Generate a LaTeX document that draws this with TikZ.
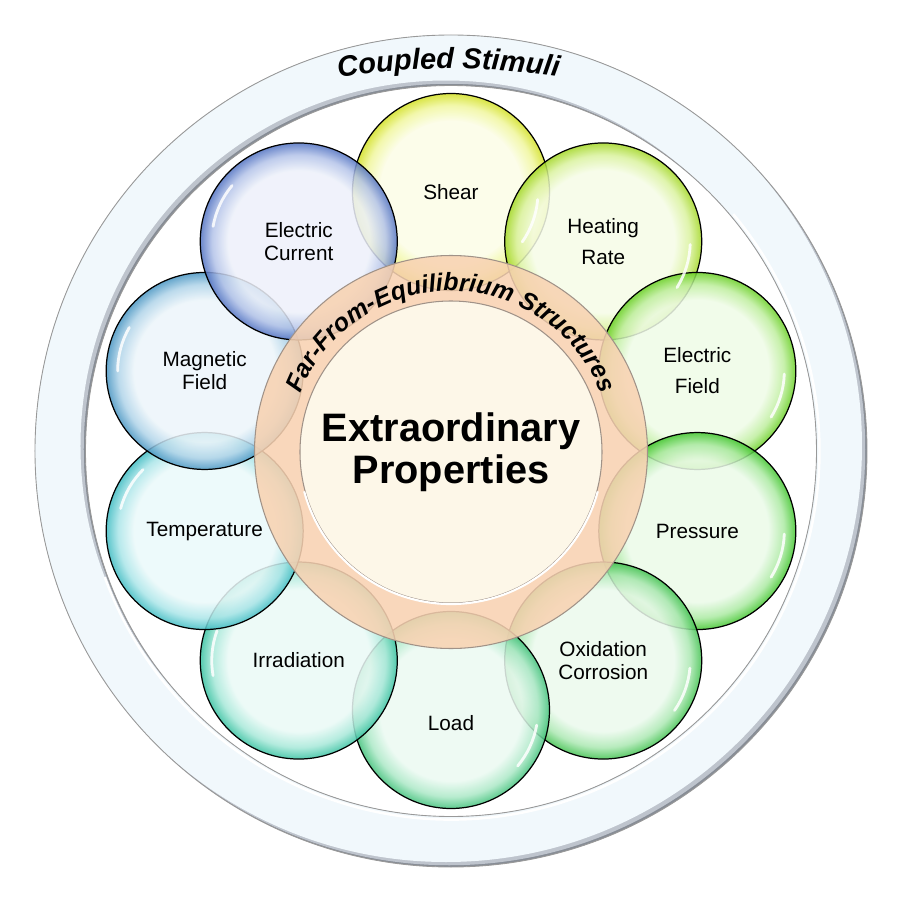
\documentclass[tikz,border=0pt]{standalone}
\usepackage{fontspec}
\setmainfont{Liberation Sans}
\usetikzlibrary{decorations.text}

\definecolor{ringfill}{RGB}{241,248,252}
\definecolor{ringshade}{RGB}{135,141,150}
\definecolor{ringmid}{RGB}{190,196,205}
\definecolor{coreorange}{RGB}{248,210,178}
\definecolor{corecream}{RGB}{253,247,232}
\definecolor{coreedge}{RGB}{160,146,136}
\definecolor{cshear}{RGB}{222,236,40}
\definecolor{cheat}{RGB}{172,226,40}
\definecolor{cefield}{RGB}{112,218,40}
\definecolor{cpress}{RGB}{70,208,50}
\definecolor{coxid}{RGB}{70,204,85}
\definecolor{cload}{RGB}{70,204,130}
\definecolor{cirrad}{RGB}{60,204,170}
\definecolor{ctemp}{RGB}{68,198,205}
\definecolor{cmagn}{RGB}{78,158,205}
\definecolor{ccurr}{RGB}{88,122,205}

\colorlet{petalin}{white}
\colorlet{petalmid}{gray!30}
\colorlet{petalrim}{gray}
\pgfdeclareradialshading[petalin,petalmid,petalrim]{petalball}{\pgfpoint{0bp}{0bp}}{color(0bp)=(petalin); color(18bp)=(petalin); color(22bp)=(petalmid); color(25bp)=(petalrim); color(50bp)=(petalrim)}

\newcommand\petalfont{\fontsize{11.8}{13.2}\selectfont}
\newcommand\corefont{\fontsize{22.6}{23.8}\selectfont\bfseries}
\newcommand\farfont{\fontsize{14.2}{16}\selectfont\bfseries\itshape}
\newcommand\stimfont{\fontsize{16.5}{18}\selectfont\bfseries\itshape}

\tikzset{petal/.style={circle, minimum size=3.94cm, inner sep=0pt, draw=black, line width=0.7pt, fill opacity=0.86, text opacity=1, align=center, font=\petalfont, /utils/exec={\colorlet{petalin}{#1!11!white}\colorlet{petalmid}{#1!45!white}\colorlet{petalrim}{#1!95!black}}, shading=petalball}}
\tikzstyle{core} = [circle, minimum size=6.04cm, inner sep=0pt, fill=corecream, draw=coreedge, line width=0.6pt, align=center, font=\corefont]
\tikzstyle{ringedge} = [draw=gray!80, line width=0.5pt]
\tikzstyle{glint} = [white, line width=1.6pt, line cap=round, opacity=0.85]

\begin{document}
\begin{tikzpicture}
\useasboundingbox (-9.02,-9.04) rectangle (9.02,9.02);

% outer ring
\begin{scope}[even odd rule]
  \clip (0,0) circle (8.32) (0,0) circle (7.31);
  \fill[ringshade] (0,0) circle (8.4);
  \fill[ringmid] (-0.035,0.035) circle (8.32) (-0.035,0.035) circle (7.31);
  \fill[ringfill] (-0.1,0.1) circle (8.32) (-0.1,0.1) circle (7.31);
\end{scope}
\draw[white, line width=1.4pt] (0,0) ++(-160:7.37) arc[start angle=-160, end angle=40, radius=7.37];
\draw[ringedge] (0,0) circle (8.32) (0,0) circle (7.31);
\path[decorate, decoration={text along path, text align=center, text={|\stimfont|Coupled Stimuli}}] (-0.05,-6.35) ++(100:14) arc[start angle=100, end angle=80, radius=14];

% stimuli
\node [petal=cshear] at (90:5.18) (shear) {Shear};
\node [petal=cheat] at (54:5.18) (heating) {Heating\\[4.5pt]Rate};
\node [petal=cefield] at (18:5.18) (efield) {Electric\\[4.5pt]Field};
\node [petal=cpress] at (-18:5.18) (pressure) {Pressure};
\node [petal=coxid] at (-54:5.18) (oxidation) {Oxidation\\Corrosion};
\node [petal=cload] at (-90:5.18) (load) {\raisebox{-0.26cm}[8.5pt][0pt]{Load}};
\node [petal=cirrad] at (-126:5.18) (irradiation) {Irradiation};
\node [petal=ctemp] at (-162:5.18) (temperature) {Temperature};
\node [petal=cmagn] at (162:5.18) (magnetic) {Magnetic\\Field};
\node [petal=ccurr] at (126:5.18) (current) {Electric\\Current};

% highlights
\draw[glint] (shear.center) ++(-5:1.74) arc[start angle=-5, end angle=-35, radius=1.74];
\draw[glint] (heating.center) ++(-2:1.74) arc[start angle=-2, end angle=-32, radius=1.74];
\draw[glint] (efield.center) ++(-2:1.74) arc[start angle=-2, end angle=-32, radius=1.74];
\draw[glint] (pressure.center) ++(-2:1.74) arc[start angle=-2, end angle=-32, radius=1.74];
\draw[glint] (oxidation.center) ++(-5:1.74) arc[start angle=-5, end angle=-35, radius=1.74];
\draw[glint] (load.center) ++(-10:1.74) arc[start angle=-10, end angle=-40, radius=1.74];
\draw[glint] (irradiation.center) ++(160:1.74) arc[start angle=160, end angle=190, radius=1.74];
\draw[glint] (temperature.center) ++(135:1.74) arc[start angle=135, end angle=165, radius=1.74];
\draw[glint] (magnetic.center) ++(150:1.74) arc[start angle=150, end angle=180, radius=1.74];
\draw[glint] (current.center) ++(140:1.74) arc[start angle=140, end angle=170, radius=1.74];

% centre
\fill[coreorange, fill opacity=0.88, even odd rule] (0,-0.02) circle (3.93) (0,-0.02) circle (3.0);
\draw[coreedge, line width=0.6pt] (0,-0.02) circle (3.93);
\node [core] at (0,-0.02) (props) {Extraordinary\\Properties};
\draw[white, line width=1.2pt] (0,-0.02) ++(-165:3.04) arc[start angle=-165, end angle=-15, radius=3.04];
\path[decorate, decoration={text along path, text align=center, text={|\farfont|Far-From-Equilibrium Structures}}] (0,-0.02) ++(162:3.22) arc[start angle=162, end angle=18, radius=3.22];
\end{tikzpicture}
\end{document}
